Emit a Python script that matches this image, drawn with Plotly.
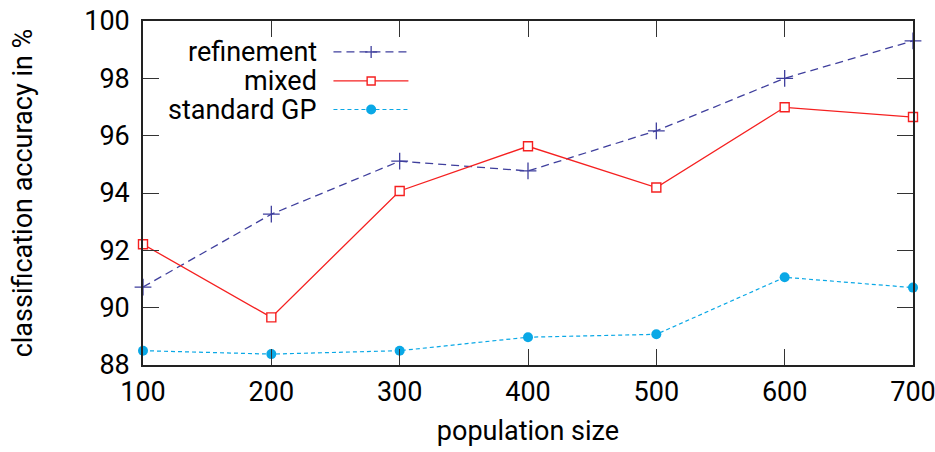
import plotly.graph_objects as go

population = [100, 200, 300, 400, 500, 600, 700]
refinement = [90.72, 93.26, 95.11, 94.77, 96.17, 98.00, 99.31]
mixed = [92.21, 89.66, 94.07, 95.63, 94.19, 96.99, 96.65]
standard_gp = [88.50, 88.38, 88.50, 88.97, 89.07, 91.06, 90.70]

x_ticks = [100, 200, 300, 400, 500, 600, 700]
y_ticks = [88, 90, 92, 94, 96, 98, 100]

FONT = "Roboto"
FS = 27
C_REF = "#3f3f9d"
C_MIX = "#f52020"
C_STD = "#0aa8e6"

fig = go.Figure()
fig.add_trace(go.Scatter(
    x=population, y=refinement, name="refinement", mode="lines+markers",
    line=dict(color=C_REF, width=1.3, dash="8px,5px"),
    marker=dict(symbol="cross-thin", size=12, line=dict(color=C_REF, width=1.3)),
    cliponaxis=False))
fig.add_trace(go.Scatter(
    x=population, y=mixed, name="mixed", mode="lines+markers",
    line=dict(color=C_MIX, width=1.3),
    marker=dict(symbol="square", size=9, color="white", line=dict(color=C_MIX, width=1.4)),
    cliponaxis=False))
fig.add_trace(go.Scatter(
    x=population, y=standard_gp, name="standard GP", mode="lines+markers",
    line=dict(color=C_STD, width=1.2, dash="4px,3px"),
    marker=dict(symbol="circle", size=10, color=C_STD),
    cliponaxis=False))

# custom legend (text left of sample, like gnuplot)
W_L, W_R, H_T, H_B = 142.5, 912.7, 20.7, 365.0
def px2paper(px, py):
    return (px - W_L) / (W_R - W_L), (H_B - py) / (H_B - H_T)

names = ["refinement", "mixed", "standard GP"]
rows = [51.7, 80.7, 109.3]
shapes = []
annotations = []
for name, row in zip(names, rows):
    tx, ty = px2paper(319, row)
    annotations.append(dict(text=name, x=tx, y=ty, xref="paper", yref="paper",
                            xanchor="right", yanchor="middle", showarrow=False,
                            font=dict(family=FONT, size=FS, color="black")))
    x0, yy = px2paper(333, row)
    x1, _ = px2paper(408, row)
    xm, _ = px2paper(370.7, row)
    if name == "refinement":
        shapes.append(dict(type="line", xref="paper", yref="paper", x0=x0, x1=x1, y0=yy, y1=yy,
                           line=dict(color=C_REF, width=1.3, dash="8px,5px")))
        shapes.append(dict(type="line", xref="paper", yref="paper", xsizemode="pixel", xanchor=xm,
                           x0=-6, x1=6, y0=yy, y1=yy, line=dict(color=C_REF, width=1.3)))
        shapes.append(dict(type="line", xref="paper", yref="paper", ysizemode="pixel", yanchor=yy,
                           x0=xm, x1=xm, y0=-6, y1=6, line=dict(color=C_REF, width=1.3)))
    elif name == "mixed":
        shapes.append(dict(type="line", xref="paper", yref="paper", x0=x0, x1=x1, y0=yy, y1=yy,
                           line=dict(color=C_MIX, width=1.3)))
        shapes.append(dict(type="rect", xref="paper", yref="paper", xsizemode="pixel", ysizemode="pixel",
                           xanchor=xm, yanchor=yy, x0=-4, x1=4, y0=-4, y1=4,
                           fillcolor="white", line=dict(color=C_MIX, width=1.4)))
    else:
        shapes.append(dict(type="line", xref="paper", yref="paper", x0=x0, x1=x1, y0=yy, y1=yy,
                           line=dict(color=C_STD, width=1.2, dash="4px,3px")))
        shapes.append(dict(type="circle", xref="paper", yref="paper", xsizemode="pixel", ysizemode="pixel",
                           xanchor=xm, yanchor=yy, x0=-5, x1=5, y0=-5, y1=5,
                           fillcolor=C_STD, line=dict(color=C_STD, width=0)))

axis_common = dict(showgrid=False, zeroline=False, showline=True, linecolor="#222", linewidth=1.6,
                   ticks="inside", ticklen=16, tickwidth=1.3, tickcolor="#333", mirror="allticks",
                   automargin=False, ticklabeloverflow="allow",
                   tickfont=dict(family=FONT, size=FS, color="black"))

fig.update_layout(
    width=935, height=452,
    margin=dict(l=142.5, r=22.3, t=20.7, b=87),
    plot_bgcolor="white", paper_bgcolor="white",
    showlegend=False,
    shapes=shapes, annotations=annotations,
    xaxis=dict(range=[100, 700], tickvals=x_ticks, ticklabelstandoff=2,
               title=dict(text="population size", font=dict(family=FONT, size=FS, color="black"), standoff=14),
               **axis_common),
    yaxis=dict(range=[88, 100], tickvals=y_ticks, ticklabelstandoff=6,
               title=dict(text="classification accuracy in %", font=dict(family=FONT, size=FS, color="black"), standoff=44),
               **axis_common),
)

fig.write_html("out.html", config={"displayModeBar": False},
               post_script="document.body.style.margin='0';document.body.style.overflow='hidden';")
